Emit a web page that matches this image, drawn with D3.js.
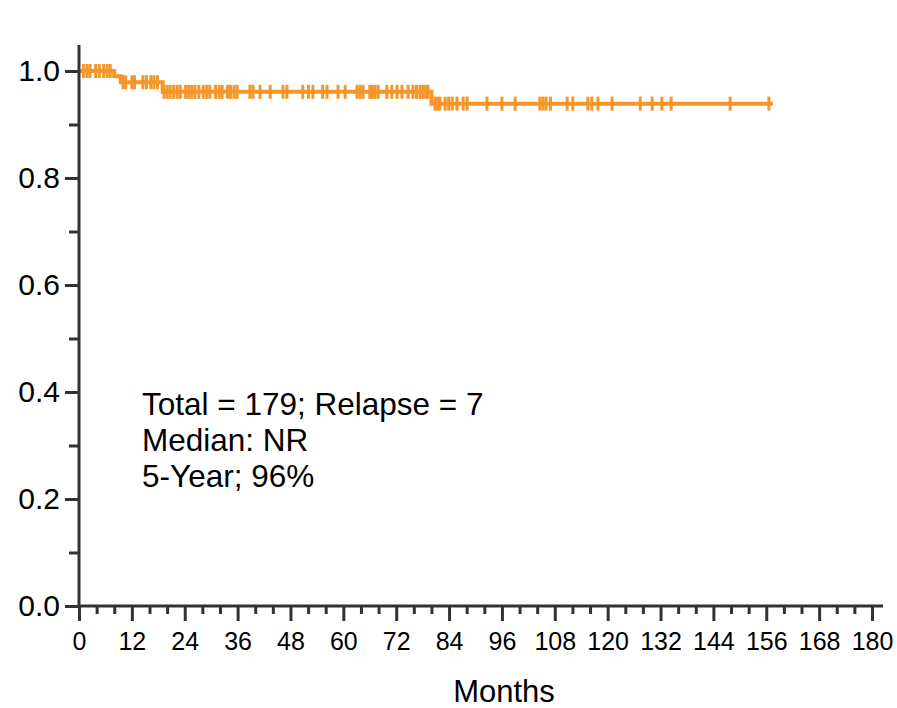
<!DOCTYPE html>
<html>
<head>
<meta charset="utf-8">
<script src="https://cdn.jsdelivr.net/npm/d3@7/dist/d3.min.js"></script>
<style>
  html, body { margin: 0; padding: 0; background: #fff; }
  svg { display: block; font-family: "Liberation Sans", Arial, sans-serif; }
</style>
</head>
<body>
<svg id="chart" width="897" height="708"></svg>
<script>
// Kaplan-Meier step curve: survival level from each time (months) onward
const stepMonths = [0, 8, 9.5, 19, 80, 157.5];
const stepSurvival = [1.0, 0.99, 0.979, 0.961, 0.939, 0.939];

// Censored observations (months)
const censorMonths = [
  1, 1.8, 2.5, 3.8, 4.6, 5.6, 6.4, 7.1,
  10, 10.6, 12, 12.6, 14.5, 15.3, 16.3, 17, 17.8,
  19.3, 20, 20.7, 21.5, 22.3, 23, 24.2, 24.9, 25.6, 26.3, 27.2, 28.2, 29, 29.7,
  31, 31.8, 32.5, 33.7, 34.4, 35.2, 35.9, 38.8, 39.5, 41.1, 43.4, 46.3, 47.2,
  50.8, 52.1, 53.1, 55.3, 56.3, 58.8, 60.4, 63.1, 63.8, 64.5, 66, 66.6, 67.2,
  67.9, 69.9, 71, 72.2, 73.3, 74.7, 75.8, 76.6, 77.4, 78.1, 78.7, 79.2,
  80.8, 81.4, 81.9, 83.1, 83.9, 84.7, 85.8, 87.2, 88.1, 92.6, 96, 99,
  104.6, 105.3, 106, 107, 110.8, 112.1, 115.5, 116.4, 117.8, 121, 127.4,
  130.1, 132.3, 134.4, 147.8, 156.6
];

// Axis ticks
const xMajorTicks = d3.range(0, 181, 12);
const xMinorTicks = d3.range(0, 181, 4).filter(v => v % 12 !== 0);
const yMajorTicks = [0, 0.2, 0.4, 0.6, 0.8, 1.0];
const yMinorTicks = [0.1, 0.3, 0.5, 0.7, 0.9];

const annotationLines = ["Total = 179; Relapse = 7", "Median: NR", "5-Year; 96%"];
const xTitle = "Months";

const svg = d3.select("#chart");
const x = d3.scaleLinear().domain([0, 180]).range([79, 872]);
const y = d3.scaleLinear().domain([0, 1]).range([606, 71]);

const axisColor = "#333";
const curveColor = "#F5962A";
const fontStack = '"Liberation Sans", Arial, sans-serif';

// survival for a given month on the step curve
function survivalAt(t) {
  let s = stepSurvival[0];
  for (let i = 0; i < stepMonths.length; i++) {
    if (stepMonths[i] <= t) s = stepSurvival[i];
  }
  return s;
}

// ---- curve ----
const pts = stepMonths.map((m, i) => [m, stepSurvival[i]]);
const line = d3.line().x(d => x(d[0])).y(d => y(d[1])).curve(d3.curveStepAfter);
svg.append("path")
  .datum(pts)
  .attr("d", line)
  .attr("fill", "none")
  .attr("stroke", curveColor)
  .attr("stroke-width", 4);

svg.append("g")
  .selectAll("line")
  .data(censorMonths)
  .join("line")
  .attr("x1", d => x(d)).attr("x2", d => x(d))
  .attr("y1", d => y(survivalAt(d)) - 7)
  .attr("y2", d => y(survivalAt(d)) + 7)
  .attr("stroke", curveColor)
  .attr("stroke-width", 3);

// ---- x axis ----
const gx = svg.append("g").attr("transform", `translate(0,${y(0)})`);
gx.call(d3.axisBottom(x).tickValues(xMajorTicks).tickSize(15).tickSizeOuter(0).tickFormat(d3.format("d")));
gx.select(".domain").remove();
gx.selectAll(".tick line").attr("stroke", axisColor).attr("stroke-width", 3);
gx.selectAll(".tick text")
  .attr("y", 26)
  .attr("dy", "0.71em")
  .attr("font-size", 25)
  .attr("fill", "#000")
  .style("font-family", fontStack);

const gxm = svg.append("g").attr("transform", `translate(0,${y(0)})`);
gxm.call(d3.axisBottom(x).tickValues(xMinorTicks).tickSize(8).tickFormat(""));
gxm.select(".domain").remove();
gxm.selectAll(".tick line").attr("stroke", axisColor).attr("stroke-width", 3);

svg.append("line")
  .attr("x1", x(0) - 1).attr("x2", 883)
  .attr("y1", y(0)).attr("y2", y(0))
  .attr("stroke", axisColor).attr("stroke-width", 3);

// ---- y axis ----
const gy = svg.append("g").attr("transform", `translate(${x(0)},0)`);
gy.call(d3.axisLeft(y).tickValues(yMajorTicks).tickSize(14).tickFormat(d3.format(".1f")));
gy.select(".domain").remove();
gy.selectAll(".tick line").attr("stroke", axisColor).attr("stroke-width", 3);
gy.selectAll(".tick text")
  .attr("x", -19)
  .attr("font-size", 30)
  .attr("fill", "#000")
  .style("font-family", fontStack);

const gym = svg.append("g").attr("transform", `translate(${x(0)},0)`);
gym.call(d3.axisLeft(y).tickValues(yMinorTicks).tickSize(10).tickFormat(""));
gym.select(".domain").remove();
gym.selectAll(".tick line").attr("stroke", axisColor).attr("stroke-width", 3);

svg.append("line")
  .attr("x1", x(0)).attr("x2", x(0))
  .attr("y1", 45).attr("y2", y(0) + 1)
  .attr("stroke", axisColor).attr("stroke-width", 3);

// ---- axis title ----
svg.append("text")
  .attr("x", 504).attr("y", 702)
  .attr("text-anchor", "middle")
  .attr("font-size", 31)
  .attr("fill", "#000")
  .text(xTitle);

// ---- annotation ----
const baselines = [415, 451, 487];
svg.append("g")
  .selectAll("text")
  .data(annotationLines)
  .join("text")
  .attr("x", 142)
  .attr("y", (d, i) => baselines[i])
  .attr("font-size", 31.5)
  .attr("fill", "#000")
  .text(d => d);
</script>
</body>
</html>
